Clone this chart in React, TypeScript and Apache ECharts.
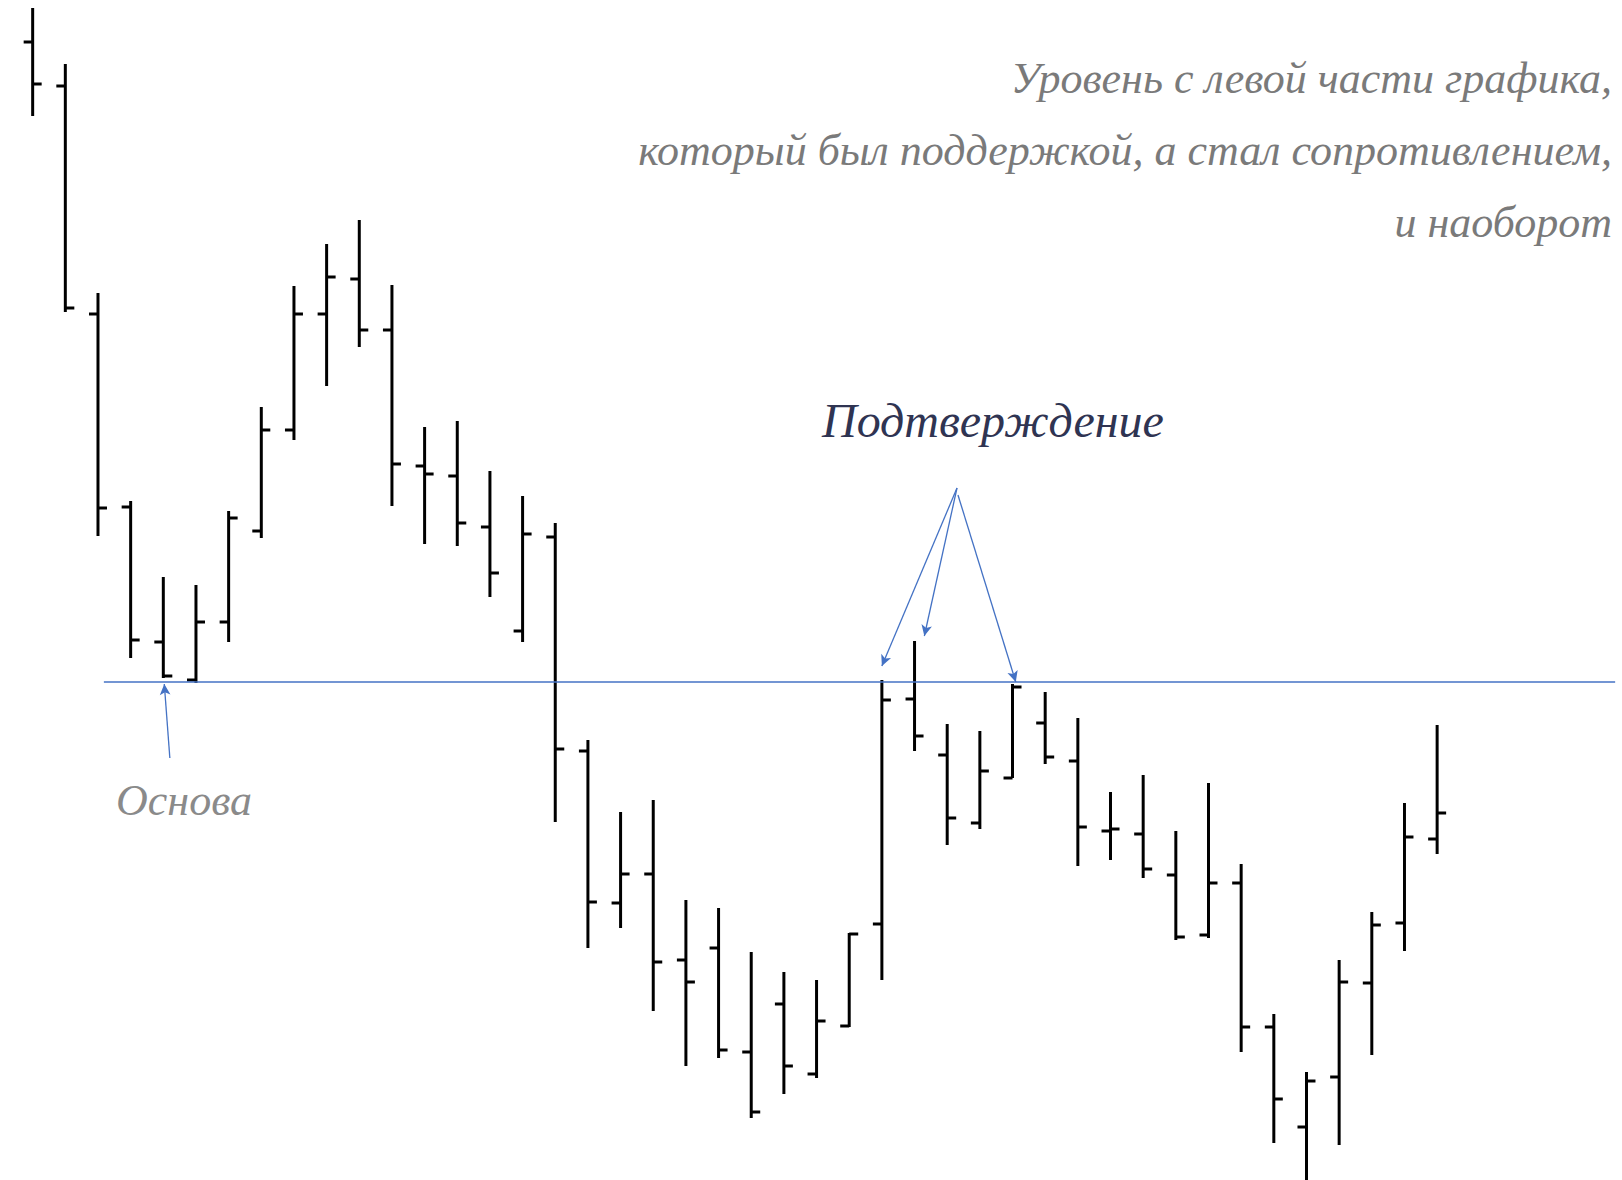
import React, { useEffect, useRef } from "react";
import * as echarts from "echarts";

// Bar index (trading sessions)
const sessions: number[] = Array.from({ length: 44 }, (_, i) => i);

const openPrices = [113.8, 109.4, 86.6, 67.3, 53.8, 50.0, 55.8, 64.9, 75.0, 86.6, 90.1, 85.0, 71.4, 70.4, 65.3, 54.9, 64.3, 42.9, 27.7, 30.6, 22.0, 23.2, 12.8, 17.6, 10.6, 15.4, 25.6, 48.1, 42.5, 35.7, 40.2, 45.7, 41.9, 34.9, 34.6, 30.5, 24.5, 29.7, 15.3, 5.3, 10.3, 19.7, 25.7, 34.1];
const closePrices = [109.6, 87.2, 67.2, 54.0, 50.4, 55.8, 66.2, 75.0, 86.6, 90.3, 85.0, 71.6, 70.6, 65.7, 60.7, 64.6, 43.1, 27.8, 30.6, 21.8, 19.8, 13.0, 6.8, 11.4, 15.9, 24.6, 48.0, 44.4, 36.2, 40.9, 49.3, 42.3, 35.3, 35.1, 31.1, 24.3, 29.7, 15.3, 8.1, 9.9, 19.8, 25.5, 34.3, 36.7];
const lowPrices = [106.4, 86.8, 64.4, 52.2, 50.2, 49.7, 53.8, 64.2, 74.0, 79.4, 83.3, 67.4, 63.6, 63.4, 58.3, 53.8, 35.8, 23.2, 25.2, 16.9, 11.4, 12.2, 6.2, 8.6, 10.2, 15.3, 20.0, 42.9, 33.5, 35.1, 40.2, 41.6, 31.4, 32.0, 30.2, 24.0, 24.2, 12.8, 3.7, -0.2, 3.5, 12.5, 22.9, 32.6];
const highPrices = [117.2, 111.6, 88.7, 67.9, 60.3, 59.5, 66.9, 77.3, 89.4, 93.6, 96.0, 89.5, 75.3, 75.9, 70.9, 68.4, 65.7, 44.0, 36.8, 38.0, 28.0, 27.2, 22.8, 20.8, 20.0, 24.7, 50.0, 53.9, 45.6, 44.9, 49.6, 48.8, 46.2, 38.8, 40.5, 34.9, 39.7, 31.6, 16.6, 10.8, 22.0, 26.8, 37.7, 45.5];

// Support -> resistance level
const levelPrice = 49.8;
const levelFrom = 2.18;
const levelTo = 48.45;

// Annotation arrows: [fromIndex, fromPrice, toIndex, toPrice]
const baseArrow = [4.2, 42.2, 4.03, 49.6];
const confirmArrows = [
  [28.3, 69.2, 26.0, 51.4],
  [28.3, 69.2, 27.3, 54.4],
  [28.33, 68.5, 30.1, 49.8],
];

const noteLines = [
  "Уровень с левой части графика,",
  "который был поддержкой, а стал сопротивлением,",
  "и наоборот",
];
const confirmLabel = "Подтверждение";
const baseLabel = "Основа";

export default function App() {
  const ref = useRef<HTMLDivElement>(null);
  useEffect(() => {
    if (!ref.current) return;
    const chart = echarts.init(ref.current, null, { renderer: "svg" });
    const ohlc = sessions.map((i) => [i, openPrices[i], closePrices[i], lowPrices[i], highPrices[i]]);
    const blue = "#4472C4";
    const arrowPair = (a: number[]) => [
      { coord: [a[0], a[1]], symbol: "none" },
      { coord: [a[2], a[3]], symbol: "arrow" },
    ];
    const font = "Liberation Serif";
    const noteStyle = (text: string) => ({
      text,
      fontFamily: font,
      fontStyle: "italic",
      fontSize: 44,
      fill: "#7a7a7a",
      align: "right",
      verticalAlign: "middle",
    });
    chart.setOption({
      animation: false,
      backgroundColor: "#ffffff",
      grid: { left: 0, right: 0, top: 0, bottom: 0 },
      xAxis: { type: "value", min: -1.0, max: 48.66, show: false },
      yAxis: { type: "value", min: 0, max: 118, show: false },
      series: [
        {
          type: "custom",
          data: ohlc,
          encode: { x: 0, y: [1, 2, 3, 4] },
          renderItem: (params: any, api: any) => {
            const x = api.value(0);
            const o = api.coord([x, api.value(1)]);
            const c = api.coord([x, api.value(2)]);
            const l = api.coord([x, api.value(3)]);
            const h = api.coord([x, api.value(4)]);
            const w = 9;
            const st = { stroke: "#000", lineWidth: 3, lineCap: "butt" };
            return {
              type: "group",
              children: [
                { type: "line", shape: { x1: h[0], y1: h[1], x2: l[0], y2: l[1] }, style: st },
                { type: "line", shape: { x1: o[0] - w, y1: o[1], x2: o[0], y2: o[1] }, style: st },
                { type: "line", shape: { x1: c[0], y1: c[1], x2: c[0] + w, y2: c[1] }, style: st },
              ],
            };
          },
        },
        {
          type: "line",
          data: [
            [levelFrom, levelPrice],
            [levelTo, levelPrice],
          ],
          symbol: "none",
          lineStyle: { color: blue, width: 1.6 },
          markLine: {
            silent: true,
            symbolSize: [8, 11],
            lineStyle: { color: blue, width: 1.3, type: "solid" },
            label: { show: false },
            data: [arrowPair(baseArrow), ...confirmArrows.map(arrowPair)],
          },
        },
      ],
      graphic: [
        { type: "text", x: 1612, y: 78, style: noteStyle(noteLines[0]) },
        { type: "text", x: 1612, y: 150, style: noteStyle(noteLines[1]) },
        { type: "text", x: 1612, y: 222, style: noteStyle(noteLines[2]) },
        {
          type: "text",
          x: 822,
          y: 420,
          style: { text: confirmLabel, fontFamily: font, fontStyle: "italic", fontSize: 48, fill: "#2f3452", align: "left", verticalAlign: "middle" },
        },
        {
          type: "text",
          x: 116,
          y: 800,
          style: { text: baseLabel, fontFamily: font, fontStyle: "italic", fontSize: 44, fill: "#8a8a8a", align: "left", verticalAlign: "middle" },
        },
      ],
    });
    return () => chart.dispose();
  }, []);
  return <div ref={ref} style={{ position: "absolute", left: 0, top: 0, width: 1622, height: 1180 }} />;
}
